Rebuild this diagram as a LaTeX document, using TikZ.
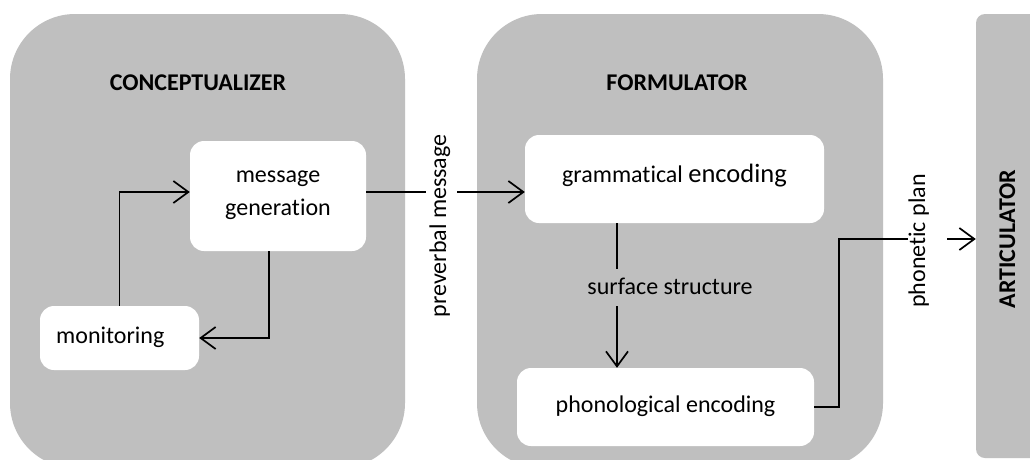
\documentclass[tikz,border=0pt]{standalone}
\usepackage{fontspec}
\setmainfont{Carlito}[Ligatures=NoCommon]
\usetikzlibrary{arrows.meta}
\definecolor{panelgray}{HTML}{BFBFBF}
\begin{document}
\begin{tikzpicture}[x=1pt,y=-1pt,
  panel/.style={fill=panelgray, draw=none, rounded corners=65pt, inner sep=0pt},
  inbox/.style={fill=white, draw=none, rounded corners=14pt, inner sep=0pt},
  txt/.style={font=\fontsize{24}{33}\selectfont, inner sep=0pt, align=center},
  ttl/.style={font=\fontsize{24}{29}\selectfont\bfseries, inner sep=0pt},
  conn/.style={line width=1.7pt, draw=black},
  arr/.style={conn, -{Straight Barb[length=15pt,width=22pt]}},
  lbl/.style={txt, inner xsep=0pt, inner ysep=0pt, anchor=base},
]
\useasboundingbox (0,0) rectangle (1030,459);
\clip (0,0) rectangle (1030,459);
\fill[white] (0,0) rectangle (1030,459);

% panels
\node[panel, minimum width=395pt, minimum height=454pt] (conc) at (207.5,241) {};
\node[panel, minimum width=406pt, minimum height=454pt] (form) at (680,241) {};
\node[panel, rounded corners=9pt, minimum width=69pt, minimum height=444pt] (artic) at (1010.5,236) {};

% titles
\node[ttl, anchor=base] (conctitle) at (198,90) {CONCEPTUALIZER};
\node[ttl, anchor=base] (formtitle) at (677,90) {FORMULATOR};
\node[ttl, anchor=base, rotate=90] (artictitle) at (1015,239) {ARTICULATOR};

% inner boxes
\node[inbox, minimum width=176pt, minimum height=110pt] (msg) at (278,196) {};
\node[inbox, minimum width=159pt, minimum height=64pt] (mon) at (119.5,338) {};
\node[inbox, minimum width=299pt, minimum height=88pt] (gram) at (674.5,179) {};
\node[inbox, minimum width=297pt, minimum height=78pt] (phon) at (665.5,407) {};

% box texts
\node[txt] (msgtxt) at (278,195) {message\\generation};
\node[txt, anchor=base west] (montxt) at (56,343) {monitoring};
\node[txt, anchor=base] (gramtxt) at (674.5,182) {grammatical {\fontsize{26.5}{30}\selectfont encoding}};
\node[txt, anchor=base] (phontxt) at (665.5,412) {phonological encoding};

% connectors
\draw[arr] (mon.north) -- (mon.north |- 0,192) -- (msg.west |- 0,192);
\draw[arr] (269,0 |- msg.south) -- (269,338) -- (mon.east);
\draw[arr] (msg.east |- 0,192) -- (gram.west |- 0,192);
\draw[arr] (617,0 |- gram.south) -- (617,0 |- phon.north);
\draw[arr] (phon.east) -- (839,0 |- phon.east) -- (839,239) -- (artic.west |- 0,239);

% connector labels
\node[lbl, rotate=90, fill=white, text height=20pt, text depth=11pt] (prevlbl) at (446,226) {preverbal message};
\node[lbl, fill=panelgray, text height=25pt, text depth=12pt] (surflbl) at (670,294) {surface structure};
\node[lbl, rotate=90, fill=white, text height=17pt, text depth=22pt] (phonlbl) at (925,241) {phonetic plan};
\end{tikzpicture}
\end{document}
